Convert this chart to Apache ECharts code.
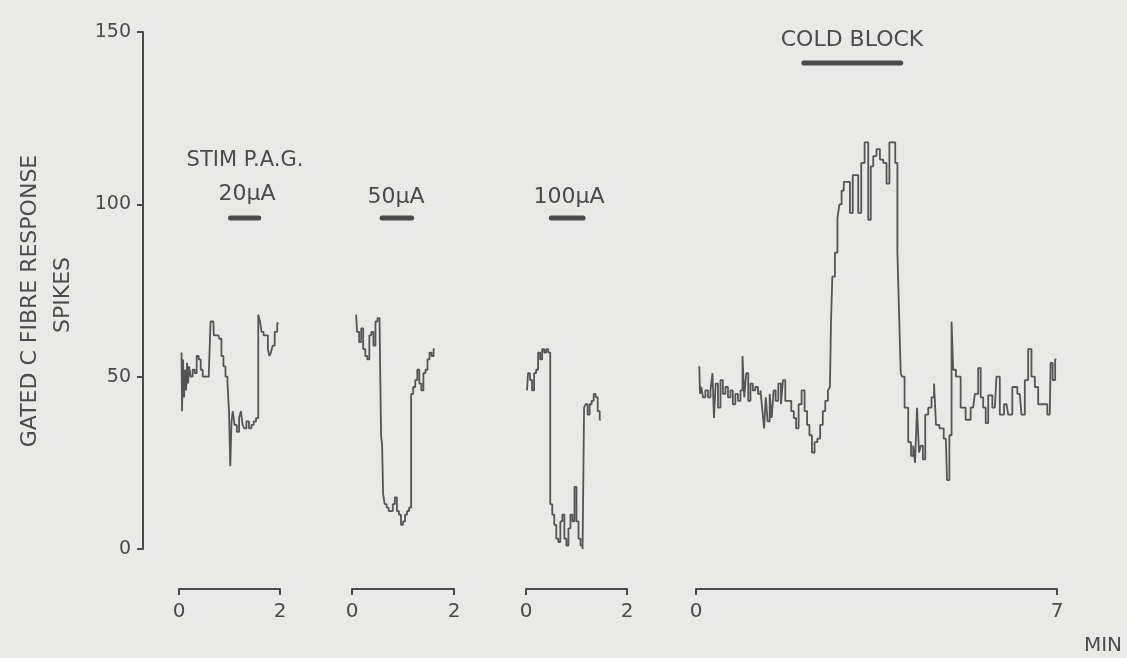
<!DOCTYPE html>
<html>
<head>
<meta charset="utf-8">
<title>Gated C fibre response</title>
<script src="https://cdn.jsdelivr.net/npm/echarts@6/dist/echarts.min.js"></script>
<style>
  html, body { margin: 0; padding: 0; background: #e9e9e7; }
  #chart { width: 1127px; height: 658px; }
</style>
</head>
<body>
<div id="chart"></div>
<script>
// Ratemeter records of gated C fibre spikes (time in min, spikes per bin)
const yTicks = [0, 50, 100, 150];

// Stimulation of P.A.G. at 20 uA
const stim20Time = [0.05, 0.07, 0.09, 0.11, 0.13, 0.15, 0.17, 0.19, 0.21, 0.25, 0.29, 0.33, 0.37, 0.41, 0.45, 0.49, 0.53, 0.57, 0.61, 0.64, 0.68, 0.70, 0.74, 0.78, 0.82, 0.86, 0.90, 0.94, 0.98, 1.00, 1.03, 1.05, 1.08, 1.12, 1.17, 1.21, 1.24, 1.28, 1.31, 1.36, 1.41, 1.46, 1.50, 1.55, 1.59, 1.62, 1.65, 1.70, 1.74, 1.78, 1.80, 1.84, 1.87, 1.92, 1.97];
const stim20Spikes = [57, 40, 55, 44, 52, 46, 54, 48, 53, 50, 52, 51, 56, 55, 52, 50, 50, 50, 51, 66, 66, 62, 62, 62, 61, 56, 53, 50, 48, 40, 24, 37, 40, 36, 34, 38, 40, 36, 35, 37, 35, 36, 37, 38, 68, 66, 63, 62, 62, 58, 56, 57, 59, 63, 65.5];

// Stimulation at 50 uA
const stim50Time = [0.08, 0.12, 0.16, 0.20, 0.24, 0.28, 0.32, 0.36, 0.40, 0.44, 0.48, 0.52, 0.56, 0.58, 0.60, 0.62, 0.66, 0.70, 0.74, 0.78, 0.82, 0.86, 0.90, 0.94, 0.98, 1.02, 1.06, 1.10, 1.14, 1.18, 1.22, 1.26, 1.30, 1.34, 1.38, 1.42, 1.46, 1.50, 1.54, 1.58, 1.62];
const stim50Spikes = [68, 63, 60, 64, 58, 56, 55, 62, 63, 59, 66, 67, 66, 33, 30, 16, 13, 12, 11, 11, 13, 15, 11, 10, 7, 8, 10, 11, 12, 45, 47, 49, 52, 48, 46, 51, 52, 55, 57, 56, 58];

// Stimulation at 100 uA
const stim100Time = [0.02, 0.06, 0.10, 0.14, 0.18, 0.22, 0.26, 0.30, 0.34, 0.38, 0.42, 0.46, 0.50, 0.54, 0.58, 0.62, 0.66, 0.70, 0.74, 0.78, 0.82, 0.86, 0.90, 0.94, 0.98, 1.02, 1.06, 1.10, 1.14, 1.16, 1.20, 1.24, 1.28, 1.32, 1.36, 1.40, 1.44, 1.48];
const stim100Spikes = [46, 51, 49, 46, 51, 52, 57, 55, 58, 57, 58, 57, 13, 10, 7, 3, 2, 8, 10, 3, 1, 6, 10, 8, 18, 8, 3, 1, 0, 41, 42, 39, 42, 43, 45, 44, 40, 37.5];

// Cold block of the spinal cord
const coldTime = [0.064, 0.091, 0.116, 0.155, 0.207, 0.258, 0.304, 0.335, 0.362, 0.401, 0.452, 0.498, 0.543, 0.595, 0.645, 0.692, 0.736, 0.789, 0.839, 0.886, 0.917, 0.955, 0.994, 1.033, 1.079, 1.124, 1.176, 1.227, 1.273, 1.304, 1.337, 1.370, 1.409, 1.448, 1.486, 1.525, 1.564, 1.628, 1.667, 1.705, 1.758, 1.822, 1.874, 1.919, 1.963, 2.016, 2.079, 2.132, 2.176, 2.223, 2.273, 2.326, 2.378, 2.436, 2.481, 2.533, 2.583, 2.610, 2.626, 2.661, 2.727, 2.758, 2.804, 2.843, 2.888, 2.952, 3.017, 3.062, 3.114, 3.178, 3.231, 3.308, 3.372, 3.405, 3.469, 3.533, 3.599, 3.663, 3.727, 3.773, 3.837, 3.890, 3.921, 3.953, 3.986, 4.006, 4.083, 4.147, 4.192, 4.231, 4.264, 4.308, 4.341, 4.380, 4.419, 4.471, 4.535, 4.599, 4.632, 4.676, 4.762, 4.845, 4.890, 4.936, 4.975, 5.000, 5.083, 5.180, 5.277, 5.374, 5.440, 5.504, 5.537, 5.601, 5.634, 5.698, 5.795, 5.858, 5.924, 6.021, 6.085, 6.182, 6.279, 6.343, 6.409, 6.473, 6.537, 6.603, 6.667, 6.764, 6.860, 6.893, 6.938, 6.990];
const coldSpikes = [53, 45, 47, 44, 46, 44, 46, 51, 38, 48, 41, 49, 45, 47, 44, 46, 42, 45, 43, 46, 56, 44, 51, 43, 48, 46, 47, 45, 46, 40, 35, 44, 37, 45, 38, 46, 43, 48, 42, 49, 43, 43, 40, 38, 35, 42, 46, 40, 36, 33, 28, 31, 32, 36, 40, 43, 46, 47, 66, 79, 86, 96, 100, 104, 106.5, 106.5, 97.5, 108.5, 108.5, 97.5, 112, 118, 95.5, 111, 114, 116, 113, 112, 106, 118, 118, 112, 86, 69, 51, 50, 41, 31, 27, 30, 25, 41, 28, 30, 26, 39, 41, 44, 48, 36, 35, 32, 20, 33, 66, 52, 50, 41, 37.5, 41, 45, 52.5, 44, 41, 36.5, 44.6, 41, 50, 39, 42, 39, 47, 45, 39, 49, 58, 50, 47, 42, 42, 39, 54, 49, 55];

// Stimulus periods (min) and their labels
const stimLabels = ['20\u03bcA', '50\u03bcA', '100\u03bcA', 'COLD BLOCK'];
const stimStart = [1.02, 0.59, 0.50, 2.09];
const stimEnd = [1.58, 1.17, 1.13, 3.97];
const stimLevel = [96, 96, 96, 141];
const xMax = [2, 2, 2, 7];

const traces = [
  [stim20Time, stim20Spikes],
  [stim50Time, stim50Spikes],
  [stim100Time, stim100Spikes],
  [coldTime, coldSpikes]
];

const INK = '#4b4b4b';
const TRACE = '#555555';
const FONT = '"DejaVu Sans", sans-serif';

// panel placement in pixels
const GRID_TOP = 32, GRID_H = 517;
const panelLeft = [179, 352, 526, 696];
const panelWidth = [101, 102, 101, 361];

const grids = [{ left: 143, top: GRID_TOP, width: 10, height: GRID_H, outerBoundsMode: 'none' }];
const xAxes = [{ gridIndex: 0, type: 'value', show: false, min: 0, max: 1 }];
const yAxes = [{
  gridIndex: 0, type: 'value', min: yTicks[0], max: yTicks[yTicks.length - 1], interval: 50,
  position: 'left',
  axisLine: { show: true, lineStyle: { color: INK, width: 2 } },
  axisTick: { show: true, length: 6, lineStyle: { color: INK, width: 2 } },
  axisLabel: { color: INK, fontSize: 19, fontFamily: FONT, margin: 12 },
  splitLine: { show: false }
}];
const series = [];

traces.forEach(function (tr, i) {
  const gi = i + 1;
  grids.push({ left: panelLeft[i], top: GRID_TOP, width: panelWidth[i], height: GRID_H, outerBoundsMode: 'none' });
  xAxes.push({
    gridIndex: gi, type: 'value', min: 0, max: xMax[i], interval: xMax[i],
    position: 'bottom', offset: 40,
    axisLine: { show: true, onZero: false, lineStyle: { color: INK, width: 2 } },
    axisTick: { show: true, length: 6, lineStyle: { color: INK, width: 2 } },
    axisLabel: { color: INK, fontSize: 20, fontFamily: FONT, margin: 13 },
    splitLine: { show: false }
  });
  yAxes.push({ gridIndex: gi, type: 'value', min: 0, max: 150, show: false, splitLine: { show: false } });
  series.push({
    type: 'line', xAxisIndex: gi, yAxisIndex: gi,
    data: tr[0].map(function (t, k) { return [t, tr[1][k]]; }),
    step: 'middle', showSymbol: false, silent: true,
    lineStyle: { color: TRACE, width: 1.8 }
  });
  series.push({
    type: 'line', xAxisIndex: gi, yAxisIndex: gi,
    data: [[stimStart[i], stimLevel[i]], [stimEnd[i], stimLevel[i]]],
    showSymbol: false, silent: true,
    lineStyle: { color: INK, width: 5, cap: 'round' }
  });
});

const textStyle = function (txt, size) {
  return { text: txt, fill: INK, font: size + 'px ' + FONT, align: 'center', verticalAlign: 'middle' };
};

const chart = echarts.init(document.getElementById('chart'), null, { renderer: 'canvas' });
chart.setOption({
  backgroundColor: '#e9e9e7',
  animation: false,
  grid: grids,
  xAxis: xAxes,
  yAxis: yAxes,
  series: series,
  graphic: [
    { type: 'text', x: 30, y: 301, rotation: Math.PI / 2, style: textStyle('GATED C FIBRE RESPONSE', 22) },
    { type: 'text', x: 63, y: 295, rotation: Math.PI / 2, style: textStyle('SPIKES', 22) },
    { type: 'text', x: 245, y: 161, style: textStyle('STIM P.A.G.', 21) },
    { type: 'text', x: 247, y: 194, style: textStyle(stimLabels[0], 22) },
    { type: 'text', x: 396, y: 197, style: textStyle(stimLabels[1], 22) },
    { type: 'text', x: 569, y: 197, style: textStyle(stimLabels[2], 22) },
    { type: 'text', x: 852, y: 40, style: textStyle(stimLabels[3], 22) },
    { type: 'text', x: 1103, y: 646, style: textStyle('MIN', 20) }
  ]
});
</script>
</body>
</html>
